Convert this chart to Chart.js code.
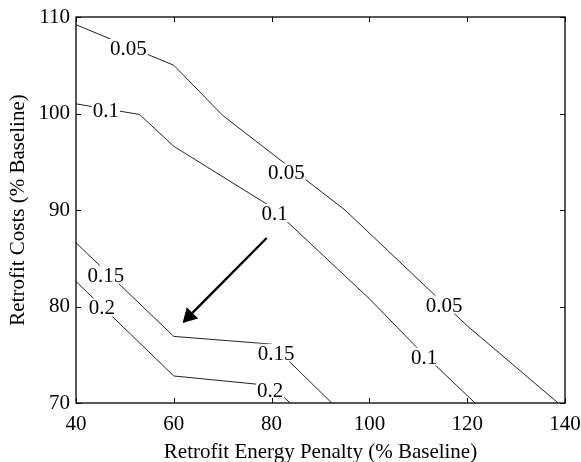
<!DOCTYPE html>
<html>
<head>
<meta charset="utf-8">
<script src="https://cdn.jsdelivr.net/npm/chart.js@4/dist/chart.umd.min.js"></script>
<style>
  html, body { margin: 0; padding: 0; background: #fff; }
</style>
</head>
<body>
<canvas id="contourChart" width="581" height="462"></canvas>
<script>
// tick values of both axes
const xTicks = [40, 60, 80, 100, 120, 140];
const yTicks = [70, 80, 90, 100, 110];

// contour lines (energy penalty vs. costs)
const energy005 = [40, 60, 70, 95, 120, 138.6];
const cost005 = [109.2, 105, 99.8, 90, 78, 70];
const energy01 = [40, 53, 60, 80, 100, 110, 121.6];
const cost01 = [101, 99.9, 96.6, 90.3, 80.8, 75.6, 70];
const energy015 = [40, 60, 80, 92.3];
const cost015 = [86.6, 76.9, 76.1, 70];
const energy02 = [40, 60, 80, 83.8];
const cost02 = [82.6, 72.8, 71.8, 70];

// inline contour labels
const labelText = ['0.05', '0.1', '0.05', '0.1', '0.05', '0.1', '0.15', '0.2', '0.15', '0.2'];
const labelEnergy = [50.7, 46.1, 83.0, 80.6, 115.3, 111.2, 46.1, 45.3, 80.9, 79.7];
const labelCost = [106.8, 100.4, 93.9, 89.7, 80.2, 74.8, 83.3, 79.9, 75.2, 71.35];

// arrow (from, to)
const arrowEnergy = [79, 61.8];
const arrowCost = [87.1, 78.3];

const serif = 'Liberation Serif';
const fontSize = 21;

function toPoints(xs, ys) {
    return xs.map((v, i) => ({ x: v, y: ys[i] }));
}

function contour(xs, ys) {
    return {
        data: toPoints(xs, ys),
        showLine: true,
        borderColor: '#222',
        borderWidth: 1,
        pointRadius: 0,
        fill: false
    };
}

// labels sit in a white gap cut out of the line
const labelPlugin = {
    id: 'contourLabels',
    afterDatasetsDraw(chart) {
        const { ctx, scales: { x, y } } = chart;
        ctx.save();
        ctx.font = fontSize + 'px "' + serif + '"';
        ctx.textAlign = 'center';
        ctx.textBaseline = 'alphabetic';
        labelText.forEach((t, i) => {
            const px = x.getPixelForValue(labelEnergy[i]);
            const py = y.getPixelForValue(labelCost[i]);
            const w = ctx.measureText(t).width;
            ctx.fillStyle = '#fff';
            ctx.fillRect(px - w / 2 - 1, py - 9, w + 2, 18);
            ctx.fillStyle = '#000';
            ctx.fillText(t, px, py + 7);
        });

        // arrow
        const x0 = x.getPixelForValue(arrowEnergy[0]);
        const y0 = y.getPixelForValue(arrowCost[0]);
        const x1 = x.getPixelForValue(arrowEnergy[1]);
        const y1 = y.getPixelForValue(arrowCost[1]);
        const ang = Math.atan2(y1 - y0, x1 - x0);
        const headLen = 14, headW = 8;
        const bx = x1 - headLen * Math.cos(ang);
        const by = y1 - headLen * Math.sin(ang);
        ctx.strokeStyle = '#000';
        ctx.lineWidth = 2.4;
        ctx.beginPath();
        ctx.moveTo(x0, y0);
        ctx.lineTo(bx, by);
        ctx.stroke();
        ctx.fillStyle = '#000';
        ctx.beginPath();
        ctx.moveTo(x1, y1);
        ctx.lineTo(bx + headW * Math.sin(ang), by - headW * Math.cos(ang));
        ctx.lineTo(bx - headW * Math.sin(ang), by + headW * Math.cos(ang));
        ctx.closePath();
        ctx.fill();
        ctx.restore();
    }
};

// box round the plot with inward ticks on all sides
const framePlugin = {
    id: 'frame',
    afterDraw(chart) {
        const { ctx, chartArea: a, scales: { x, y } } = chart;
        ctx.save();
        ctx.strokeStyle = '#000';
        ctx.lineWidth = 1.3;
        ctx.strokeRect(a.left, a.top, a.right - a.left, a.bottom - a.top);
        ctx.lineWidth = 1;
        ctx.beginPath();
        xTicks.forEach(v => {
            const px = Math.round(x.getPixelForValue(v)) + 0.5;
            ctx.moveTo(px, a.bottom);
            ctx.lineTo(px, a.bottom - 5);
            ctx.moveTo(px, a.top);
            ctx.lineTo(px, a.top + 5);
        });
        yTicks.forEach(v => {
            const py = Math.round(y.getPixelForValue(v)) + 0.5;
            ctx.moveTo(a.left, py);
            ctx.lineTo(a.left + 5, py);
            ctx.moveTo(a.right, py);
            ctx.lineTo(a.right - 5, py);
        });
        ctx.stroke();
        ctx.restore();
    }
};

// fixed axis boxes so the plot area lands where it is in the picture
function fixBox(s, size) {
    if (s.isHorizontal()) {
        s.height = size;
    } else {
        s.width = size;
    }
    s.paddingLeft = 0;
    s.paddingRight = 0;
    s.paddingTop = 0;
    s.paddingBottom = 0;
}

const ctx = document.getElementById('contourChart').getContext('2d');
new Chart(ctx, {
    type: 'scatter',
    data: {
        datasets: [
            contour(energy005, cost005),
            contour(energy01, cost01),
            contour(energy015, cost015),
            contour(energy02, cost02)
        ]
    },
    options: {
        responsive: false,
        animation: false,
        layout: { padding: { top: 17, right: 16, left: 0, bottom: 0 } },
        plugins: {
            legend: { display: false },
            tooltip: { enabled: false }
        },
        scales: {
            x: {
                type: 'linear',
                min: 40,
                max: 140,
                afterBuildTicks: s => { s.ticks = xTicks.map(v => ({ value: v })); },
                ticks: { color: '#000', font: { family: serif, size: fontSize }, padding: 9, maxRotation: 0 },
                grid: { display: false, drawTicks: false },
                border: { display: false },
                title: {
                    display: true,
                    text: 'Retrofit Energy Penalty (% Baseline)',
                    color: '#000',
                    font: { family: serif, size: fontSize },
                    padding: { top: 0, bottom: -3 }
                },
                afterFit: s => fixBox(s, 59)
            },
            y: {
                type: 'linear',
                min: 70,
                max: 110,
                afterBuildTicks: s => { s.ticks = yTicks.map(v => ({ value: v })); },
                ticks: { color: '#000', font: { family: serif, size: fontSize }, padding: 6 },
                grid: { display: false, drawTicks: false },
                border: { display: false },
                title: {
                    display: true,
                    text: 'Retrofit Costs (% Baseline)',
                    color: '#000',
                    font: { family: serif, size: fontSize },
                    padding: { top: 6, bottom: 0 }
                },
                afterFit: s => fixBox(s, 76)
            }
        }
    },
    plugins: [labelPlugin, framePlugin]
});
</script>
</body>
</html>
